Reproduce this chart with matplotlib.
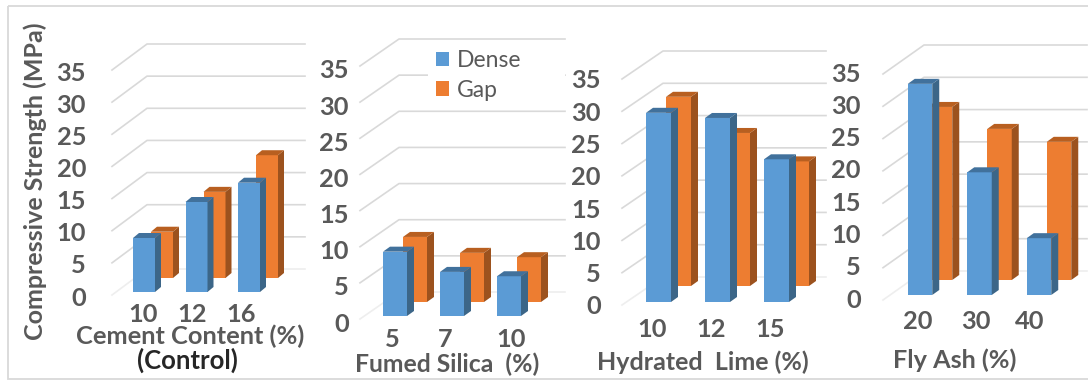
import matplotlib
matplotlib.use("Agg")
import matplotlib.pyplot as plt
from matplotlib.lines import Line2D
from matplotlib.patches import Patch, Polygon, Rectangle
from matplotlib.transforms import Affine2D, ScaledTranslation

W, H = 1088, 381
plt.rcParams["font.family"] = ["Lato", "DejaVu Sans"]

# Compressive strength in MPa
cement_cats = ["10", "12", "16"]
cement_dense = [8.4, 14.0, 17.0]
cement_gap = [7.2, 13.4, 19.1]

silica_cats = ["5", "7", "10"]
silica_dense = [8.9, 6.1, 5.5]
silica_gap = [9.0, 6.8, 6.2]

lime_cats = ["10", "12", "15"]
lime_dense = [29.3, 28.5, 22.1]
lime_gap = [29.3, 23.7, 19.3]

ash_cats = ["20", "30", "40"]
ash_dense = [32.7, 19.0, 8.8]
ash_gap = [26.8, 23.4, 21.4]

y_ticks = [0, 5, 10, 15, 20, 25, 30, 35]
series_names = ["Dense", "Gap"]
x_titles = ["Cement Content (%)", "Fumed Silica  (%)", "Hydrated  Lime (%)", "Fly Ash (%)"]

TEXT = "#595959"
GRID = "#d9d9d9"
COLORS = {
    "Dense": ("#5b9bd5", "#3c6688", "#41719c"),
    "Gap": ("#ed7d31", "#9c521e", "#b85f20"),
}

# Panel geometry, in pixels from the top-left corner of the figure
LAYOUT = [
    dict(x0=112, y0=295, span=225, dx=35, dy=26, end=305, first=144, step=52.5, w=22, gap_dx=18,
         lift=3, gap_lift=17, side=6, top=5, label_right=86, label_dy=1,
         nudge=[-1, -4.5, -8], tick_pad=8, title=(190, 336), fs=18.3),
    dict(x0=360, y0=319, span=253, dx=39, dy=27, end=565, first=395, step=57, w=24, gap_dx=20,
         lift=3, gap_lift=17, side=7, top=5, label_right=349, label_dy=3,
         nudge=[-3, -7, 2], tick_pad=9, title=(447, 364), fs=17.8),
    dict(x0=622, y0=305, span=226, dx=41, dy=28, end=826, first=658.5, step=59, w=25, gap_dx=20,
         lift=3, gap_lift=19, side=7, top=5, label_right=601, label_dy=0,
         nudge=[-6.5, -6.5, -6.5], tick_pad=13, title=(703, 362), fs=18),
    dict(x0=883, y0=300, span=226, dx=41, dy=29, end=1087, first=920, step=59.5, w=24.5, gap_dx=20,
         lift=5, gap_lift=20, side=7, top=5, label_right=861, label_dy=-2,
         nudge=[-2, -4, -9.5], tick_pad=10, title=(955, 360), fs=18.2),
]

PANELS = [
    (cement_cats, cement_dense, cement_gap),
    (silica_cats, silica_dense, silica_gap),
    (lime_cats, lime_dense, lime_gap),
    (ash_cats, ash_dense, ash_gap),
]

fig = plt.figure(figsize=(W / 100, H / 100), dpi=100, facecolor="white")
px = Affine2D().scale(1, -1).translate(0, H)

# Thin frame around the whole composite
fig.add_artist(Rectangle((8, 6), W, 373, transform=px, fill=False, ec="#d9d9d9", lw=1.3))


def draw_panel(index, cats, dense, gap, g):
    front_right = g["end"] - g["dx"]
    ax = fig.add_axes([g["x0"] / W, 1 - g["y0"] / H, (front_right - g["x0"]) / W, g["span"] / H])
    ax.patch.set_visible(False)
    ax.set_xlim((g["x0"] - g["first"]) / g["step"], (front_right - g["first"]) / g["step"])
    ax.set_ylim(0, 35)
    for s in ax.spines.values():
        s.set_visible(False)

    ux = 1 / g["step"]                # pixels to category units
    uy = 35 / g["span"]               # pixels to MPa
    xmin = ax.get_xlim()[0]

    # Side wall and back wall gridlines
    for v in y_ticks:
        color = "#eeeeee" if v == 0 else GRID
        ax.add_line(Line2D([xmin, xmin + g["dx"] * ux, ax.get_xlim()[1] + g["dx"] * ux],
                           [v, v + g["dy"] * uy, v + g["dy"] * uy],
                           color=color, lw=1.2, clip_on=False, zorder=1))

    def bar(i, value, name, x_shift, lift):
        front, side, top = COLORS[name]
        left = i + (x_shift - g["w"] / 2) * ux
        right = left + g["w"] * ux
        base = lift * uy
        peak = base + value
        sx, sy = g["side"] * ux, g["top"] * uy
        z = 3 if name == "Gap" else 4
        ax.add_patch(Polygon([(left, base), (right, base), (right, peak), (left, peak)],
                             fc=front, ec="none", clip_on=False, zorder=z))
        ax.add_patch(Polygon([(right, base), (right + sx, base + sy), (right + sx, peak + sy), (right, peak)],
                             fc=side, ec="none", clip_on=False, zorder=z))
        ax.add_patch(Polygon([(left, peak), (right, peak), (right + sx, peak + sy), (left + sx, peak + sy)],
                             fc=top, ec="none", clip_on=False, zorder=z))

    for i, v in enumerate(gap):
        bar(i, v, "Gap", g["gap_dx"], g["gap_lift"])
    for i, v in enumerate(dense):
        bar(i, v, "Dense", 0, g["lift"])

    # Tick labels
    ax.set_yticks(y_ticks)
    ax.set_xticks([i + n * ux for i, n in enumerate(g["nudge"])])
    ax.set_xticklabels(cats)
    ax.tick_params(axis="both", length=0, labelsize=18.3, labelcolor=TEXT)
    ax.tick_params(axis="y", pad=(g["x0"] - g["label_right"]) * 0.72)
    ax.tick_params(axis="x", pad=g["tick_pad"] * 0.72)
    shift = ScaledTranslation(0, -g["label_dy"] / 72 * 0.72, fig.dpi_scale_trans)
    for lab in ax.get_yticklabels() + ax.get_xticklabels():
        lab.set_fontweight("bold")
    for lab in ax.get_yticklabels():
        lab.set_transform(lab.get_transform() + shift)

    ax.set_xlabel(x_titles[index], fontsize=g["fs"], color=TEXT, fontweight="bold", va="center", ha="center")
    ax.xaxis.set_label_coords(*g["title"], transform=px)
    return ax


axes = [draw_panel(k, *PANELS[k], LAYOUT[k]) for k in range(4)]

# Left axis title and the note under the control panel
axes[0].set_ylabel("Compressive Strength (MPa)", fontsize=18, color=TEXT, fontweight="bold",
                   va="center", ha="center")
axes[0].yaxis.set_label_coords(35, 181, transform=px)
fig.text(187, 360, "(Control)", transform=px, fontsize=18.5, fontweight="bold",
         color="#262626", ha="center", va="center")

# Legend sits on a white block that interrupts one gridline
axes[1].add_patch(Rectangle((428, 45), 137, 58, transform=px, fc="white", ec="none",
                            clip_on=False, zorder=2))
handles = [Patch(fc=COLORS[n][0], ec="none", label=n) for n in series_names]
leg = axes[1].legend(handles=handles, loc="upper left", bbox_to_anchor=(436, 50),
                     bbox_transform=px, frameon=False, fontsize=16.5, borderpad=0,
                     borderaxespad=0, handlelength=0.55, handleheight=0.6,
                     handletextpad=0.38, labelspacing=0.38, labelcolor=TEXT)
leg.set_zorder(6)

fig.savefig("out.png", dpi=100)
